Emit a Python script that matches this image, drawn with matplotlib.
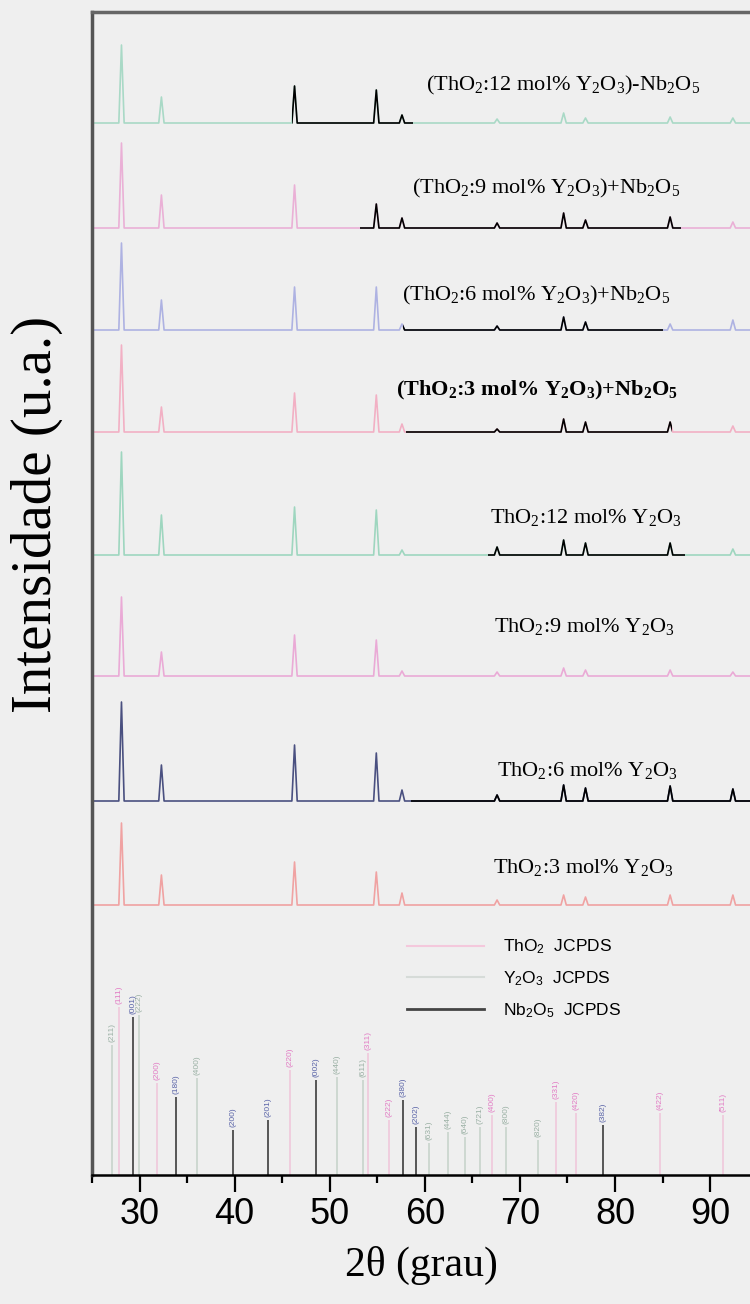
import numpy as np
import matplotlib
matplotlib.use("Agg")
import matplotlib.pyplot as plt
from matplotlib.lines import Line2D
from matplotlib.patches import Rectangle

plt.rcParams['mathtext.default'] = 'regular'
plt.rcParams['font.family'] = ['Liberation Serif', 'DejaVu Serif']

# 2theta of the fluorite reflections
peak_pos = [28.1, 32.3, 46.3, 54.9, 57.6, 67.6, 74.6, 76.9, 85.8, 92.4]

# samples, top to bottom
sample_labels = [
    "(ThO$_2$:12 mol% Y$_2$O$_3$)-Nb$_2$O$_5$",
    "(ThO$_2$:9 mol% Y$_2$O$_3$)+Nb$_2$O$_5$",
    "(ThO$_2$:6 mol% Y$_2$O$_3$)+Nb$_2$O$_5$",
    "(ThO$_2$:3 mol% Y$_2$O$_3$)+Nb$_2$O$_5$",
    "ThO$_2$:12 mol% Y$_2$O$_3$",
    "ThO$_2$:9 mol% Y$_2$O$_3$",
    "ThO$_2$:6 mol% Y$_2$O$_3$",
    "ThO$_2$:3 mol% Y$_2$O$_3$",
]
offsets = [1052, 947, 845, 743, 620, 499, 374, 270]
heights = [
    [78, 26, 37, 33, 8, 4, 10, 5, 6, 5],
    [85, 33, 43, 24, 10, 5, 15, 8, 11, 6],
    [87, 30, 43, 43, 6, 4, 13, 8, 6, 10],
    [87, 25, 39, 37, 8, 3, 13, 10, 10, 6],
    [103, 40, 48, 45, 5, 8, 15, 12, 12, 6],
    [79, 24, 41, 36, 5, 4, 8, 6, 6, 4],
    [99, 36, 56, 48, 11, 6, 16, 13, 15, 12],
    [82, 30, 43, 33, 12, 5, 10, 8, 10, 10],
]
trace_colors = ['#a9d9c6', '#eab0d6', '#aeb2e2', '#f2b0c4',
                '#9ed6bf', '#eaaad6', '#4a5080', '#f0a2a2']
# part of each pattern printed in black in the original
black_from = [46.0, 53.2, 57.7, 58.0, 66.6, None, 58.5, None]
black_to = [58.8, 86.9, 85.0, 86.0, 87.4, None, 94.2, None]
label_x = [74.6, 72.8, 71.7, 71.8, 76.9, 76.8, 77.1, 76.7]
label_y = [1085, 982, 875, 780, 652, 543, 399, 302]

# JCPDS reference sticks
tho2_pos = [27.8, 31.8, 45.8, 54.0, 56.2, 67.1, 73.8, 75.9, 84.7, 91.4]
tho2_h = [168, 92, 105, 122, 55, 60, 73, 62, 62, 60]
tho2_hkl = ["(111)", "(200)", "(220)", "(311)", "(222)", "(400)", "(331)", "(420)", "(422)", "(511)"]
y2o3_pos = [27.1, 29.9, 36.0, 50.8, 53.5, 60.4, 62.4, 64.2, 65.8, 68.5, 71.9]
y2o3_h = [130, 160, 97, 98, 95, 32, 43, 38, 48, 48, 35]
y2o3_hkl = ["(211)", "(222)", "(400)", "(440)", "(611)", "(631)", "(444)", "(640)", "(721)", "(800)", "(820)"]
nb2o5_pos = [29.3, 33.8, 39.8, 43.5, 48.6, 57.7, 59.1, 78.7]
nb2o5_h = [158, 78, 45, 55, 95, 75, 48, 50]
nb2o5_hkl = ["(001)", "(180)", "(200)", "(201)", "(002)", "(380)", "(202)", "(382)"]

xmin, xmax = 25.15, 94.2
bg = '#efefef'


def pattern(pos, h, w=0.28):
    xs, ys = [xmin], [0]
    for p, hh in zip(pos, h):
        xs += [p - w, p, p + w]
        ys += [0, hh, 0]
    xs.append(xmax)
    ys.append(0)
    return np.array(xs), np.array(ys)


fig = plt.figure(figsize=(7.5, 13.04), dpi=100, facecolor=bg)
ax = fig.add_axes([92 / 750, 129 / 1304, 658 / 750, 1163 / 1304], facecolor=bg)

for i in range(len(offsets)):
    xs, ys = pattern(peak_pos, heights[i])
    ys = ys + offsets[i]
    ax.plot(xs, ys, color=trace_colors[i], lw=1.2, zorder=2)
    if black_from[i] is not None:
        ln, = ax.plot(xs, ys, color='black', lw=1.2, zorder=3)
        clip = Rectangle((black_from[i], 0), black_to[i] - black_from[i], 1200,
                         transform=ax.transData)
        ln.set_clip_path(clip)
    ax.text(label_x[i], label_y[i], sample_labels[i], ha='center', va='baseline',
            fontsize=16, fontweight='bold' if i == 3 else 'normal', zorder=5)

# reference lines
ax.vlines(y2o3_pos, 0, y2o3_h, color='#c4d2c8', lw=1.1, zorder=1)
ax.vlines(tho2_pos, 0, tho2_h, color='#f0c4da', lw=1.1, zorder=1)
ax.vlines(nb2o5_pos, 0, nb2o5_h, color='#4a4a4a', lw=1.3, zorder=1)
for pos, h, hkl, c in [(y2o3_pos, y2o3_h, y2o3_hkl, '#9ab0a4'),
                       (tho2_pos, tho2_h, tho2_hkl, '#e27cc4'),
                       (nb2o5_pos, nb2o5_h, nb2o5_hkl, '#5a64a8')]:
    for p, hh, t in zip(pos, h, hkl):
        ax.text(p, hh + 3, t, rotation=90, ha='center', va='bottom',
                fontsize=6, color=c, family=['Liberation Sans', 'DejaVu Sans'])

handles = [Line2D([], [], color='#f4c8dc', lw=1.5),
           Line2D([], [], color='#d6dbd8', lw=1.5),
           Line2D([], [], color='#444444', lw=2.0)]
leg = ax.legend(handles, ["ThO$_2$  JCPDS", "Y$_2$O$_3$  JCPDS", "Nb$_2$O$_5$  JCPDS"],
                loc='upper left', bbox_to_anchor=(0.479, 0.204), frameon=False,
                borderpad=0, borderaxespad=0, handlelength=4.4, handletextpad=1.1,
                labelspacing=0.75, prop={'family': ['Liberation Sans', 'DejaVu Sans'], 'size': 12.5})

ax.set_xlim(xmin, xmax)
ax.set_ylim(0, 1163)
ax.set_xticks(range(30, 100, 10))
ax.set_xticks([25, 35, 45, 55, 65, 75, 85], minor=True)
ax.set_yticks([])
ax.tick_params(axis='x', which='major', direction='out', length=12, width=1.6,
               pad=4, labelsize=26)
ax.tick_params(axis='x', which='minor', direction='out', length=6, width=1.6)
for lab in ax.get_xticklabels():
    lab.set_family(['Liberation Sans', 'DejaVu Sans'])

ax.spines['right'].set_visible(False)
ax.spines['top'].set_color('#666666')
ax.spines['top'].set_linewidth(2.5)
ax.spines['left'].set_color('#555555')
ax.spines['left'].set_linewidth(2.5)
ax.spines['bottom'].set_color('black')
ax.spines['bottom'].set_linewidth(1.8)

ax.set_xlabel("2θ (grau)", fontsize=30, labelpad=10)
ax.set_ylabel("Intensidade (u.a.)", fontsize=41)
ax.yaxis.set_label_coords(-0.044, 0.568)

fig.savefig("out.png", dpi=100, facecolor=bg)
